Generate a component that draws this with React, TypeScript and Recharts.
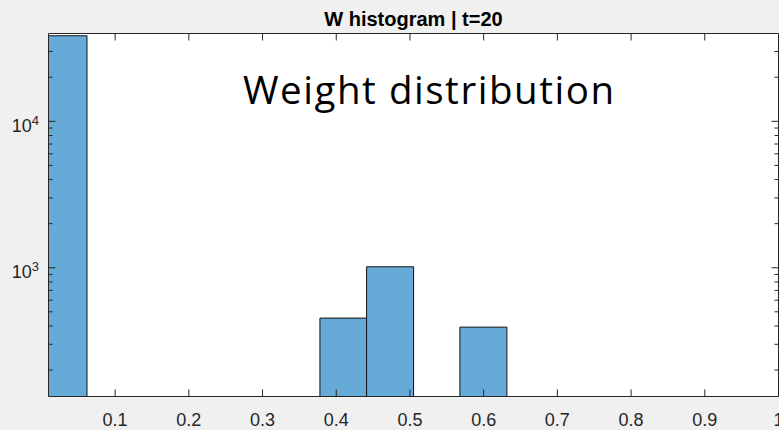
import React from 'react';
import { ComposedChart, Bar, XAxis, YAxis, CartesianGrid } from 'recharts';

// Histogram bins (centres) and counts
const binCenters = [0.0297, 0.093, 0.1563, 0.2196, 0.2829, 0.3462, 0.4095, 0.4728, 0.5361, 0.5994, 0.6627, 0.726, 0.7893, 0.8526, 0.9159, 0.9792];
const binCounts = [38400, 0, 0, 0, 0, 0, 453, 1015, 0, 393, 0, 0, 0, 0, 0, 0];

// Axis ticks
const xTicks = [0.1, 0.2, 0.3, 0.4, 0.5, 0.6, 0.7, 0.8, 0.9, 1];
const xTickLabels = ['0.1', '0.2', '0.3', '0.4', '0.5', '0.6', '0.7', '0.8', '0.9', '1'];
const yTicks = [200, 300, 400, 500, 600, 700, 800, 900, 1000, 2000, 3000, 4000, 5000, 6000, 7000, 8000, 9000, 10000, 20000, 30000];
const yMajorTicks = [1000, 10000];
const yMajorExponents = ['3', '4'];

const xDomain = [0.0096, 1];
const yDomain = [132, 39800];

const titleText = 'W histogram | t=20';
const annotationText = 'Weight distribution';

const data = binCenters
  .map((x, i) => ({ x, count: binCounts[i] }))
  .filter((d) => d.count > 0);

const AXIS_COLOR = '#262626';
const FONT = '"Liberation Sans", Arial, Helvetica, sans-serif';

const majorIndex = (v: number) => yMajorTicks.indexOf(v);

const LeftYTick = (props: any) => {
  const { x, y, payload } = props;
  const idx = majorIndex(payload.value);
  const len = idx >= 0 ? 7 : 4;
  return (
    <g>
      <line x1={x} x2={x + len} y1={y} y2={y} stroke={AXIS_COLOR} strokeWidth={1} />
      {idx >= 0 && (
        <text x={x - 9.5} y={y + 10.7} textAnchor="end" fontFamily={FONT} fontSize={18} fill={AXIS_COLOR}>
          10
          <tspan dy={-7.5} fontSize={13}>{yMajorExponents[idx]}</tspan>
        </text>
      )}
    </g>
  );
};

const RightYTick = (props: any) => {
  const { x, y, payload } = props;
  const idx = majorIndex(payload.value);
  const len = idx >= 0 ? 7 : 4;
  return <line x1={x} x2={x - len} y1={y} y2={y} stroke={AXIS_COLOR} strokeWidth={1} />;
};

const BottomXTick = (props: any) => {
  const { x, y, payload } = props;
  const idx = xTicks.indexOf(payload.value);
  return (
    <g>
      <line x1={x} x2={x} y1={y} y2={y - 7} stroke={AXIS_COLOR} strokeWidth={1} />
      <text x={x} y={y + 29.5} textAnchor="middle" fontFamily={FONT} fontSize={18} fill={AXIS_COLOR}>
        {idx >= 0 ? xTickLabels[idx] : String(payload.value)}
      </text>
    </g>
  );
};

const TopXTick = (props: any) => {
  const { x, y } = props;
  return <line x1={x} x2={x} y1={y} y2={y + 7} stroke={AXIS_COLOR} strokeWidth={1} />;
};

export default function App() {
  return (
    <div style={{ position: 'absolute', left: 0, top: 0, width: 779, height: 430, background: '#f0f0f0', overflow: 'hidden' }}>
      <ComposedChart
        width={779}
        height={430}
        data={data}
        margin={{ top: 33, right: 0, bottom: 33, left: 48 }}
        barCategoryGap={0}
        barGap={0}
      >
        <CartesianGrid horizontal={false} vertical={false} fill="#ffffff" fillOpacity={1} stroke="none" />
        <Bar dataKey="count" fill="#66AAD7" stroke="#111111" strokeWidth={1} isAnimationActive={false} />
        <XAxis
          dataKey="x"
          type="number"
          domain={xDomain}
          allowDataOverflow
          ticks={xTicks}
          height={0.5}
          tickSize={0}
          tickMargin={0}
          tickLine={false}
          tick={<BottomXTick />}
          axisLine={{ stroke: AXIS_COLOR, strokeWidth: 1 }}
          interval={0}
        />
        <XAxis
          xAxisId="top"
          orientation="top"
          dataKey="x"
          type="number"
          domain={xDomain}
          allowDataOverflow
          ticks={xTicks}
          height={0.5}
          tickSize={0}
          tickMargin={0}
          tickLine={false}
          tick={<TopXTick />}
          axisLine={{ stroke: AXIS_COLOR, strokeWidth: 1 }}
          interval={0}
        />
        <YAxis
          scale="log"
          type="number"
          domain={yDomain}
          allowDataOverflow
          ticks={yTicks}
          width={0.5}
          tickSize={0}
          tickMargin={0}
          tickLine={false}
          tick={<LeftYTick />}
          axisLine={{ stroke: AXIS_COLOR, strokeWidth: 1 }}
          interval={0}
        />
        <YAxis
          yAxisId="right"
          orientation="right"
          scale="log"
          type="number"
          domain={yDomain}
          allowDataOverflow
          ticks={yTicks}
          width={0.5}
          tickSize={0}
          tickMargin={0}
          tickLine={false}
          tick={<RightYTick />}
          axisLine={{ stroke: AXIS_COLOR, strokeWidth: 1 }}
          interval={0}
        />
      </ComposedChart>
      <svg width={779} height={430} style={{ position: 'absolute', left: 0, top: 0, pointerEvents: 'none' }}>
        <text x={413.5} y={25.5} textAnchor="middle" fontFamily={FONT} fontWeight="bold" fontSize={20} fill="#000000">
          {titleText}
        </text>
        <text x={243} y={104} fontFamily='"Open Sans", "Noto Sans", sans-serif' fontSize={38.5} fill="#000000" textLength={371} lengthAdjust="spacing">
          {annotationText}
        </text>
      </svg>
    </div>
  );
}
